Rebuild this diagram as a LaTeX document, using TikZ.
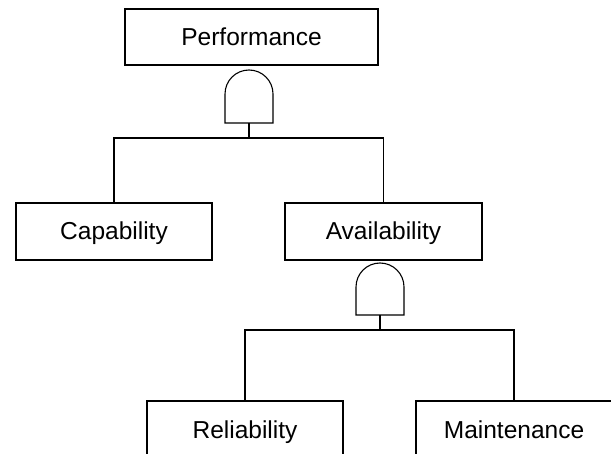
\documentclass[tikz,border=0pt]{standalone}
\usepackage{fontspec}
\setmainfont{Liberation Sans}
\begin{document}
\begin{tikzpicture}[x=1bp,y=-1bp,
  line width=1.1bp,
  box/.style={draw, line width=1.1bp, inner sep=0pt, text height=17bp, text depth=0pt,
    font=\fontsize{24.6}{28}\selectfont},
  gatepath/.style={draw, line width=1.1bp},
  conn/.style={draw, line width=1.1bp}]
\useasboundingbox (0,0) rectangle (611,454);
\clip (0,0) rectangle (611,454);
% boxes
\node[box, minimum width=253bp, minimum height=56bp] (perf) at (251.5,37) {Performance};
\node[box, minimum width=196bp, minimum height=57bp] (cap) at (114,231.5) {Capability};
\node[box, minimum width=197bp, minimum height=57bp] (avail) at (383.5,231.5) {Availability};
\node[box, minimum width=196bp, minimum height=57bp] (rel) at (245,429.5) {Reliability};
\node[box, minimum width=196bp, minimum height=57bp] (maint) at (514,429.5) {Maintenance};
% gate 1
\coordinate (g1) at (249,123);
\coordinate (b1) at (249,138);
\draw[gatepath] (225,123) -- (225,94) arc[start angle=180, end angle=360, radius=24] -- (273,123) -- cycle;
\draw[conn] (g1) -- (b1);
\draw[conn] (cap.north) |- (b1) -| (avail.north);
% gate 2
\coordinate (g2) at (380,315);
\coordinate (b2) at (380,330);
\draw[gatepath] (356,315) -- (356,287) arc[start angle=180, end angle=360, radius=24] -- (404,315) -- cycle;
\draw[conn] (g2) -- (b2);
\draw[conn] (rel.north) |- (b2) -| (maint.north);
\end{tikzpicture}
\end{document}
